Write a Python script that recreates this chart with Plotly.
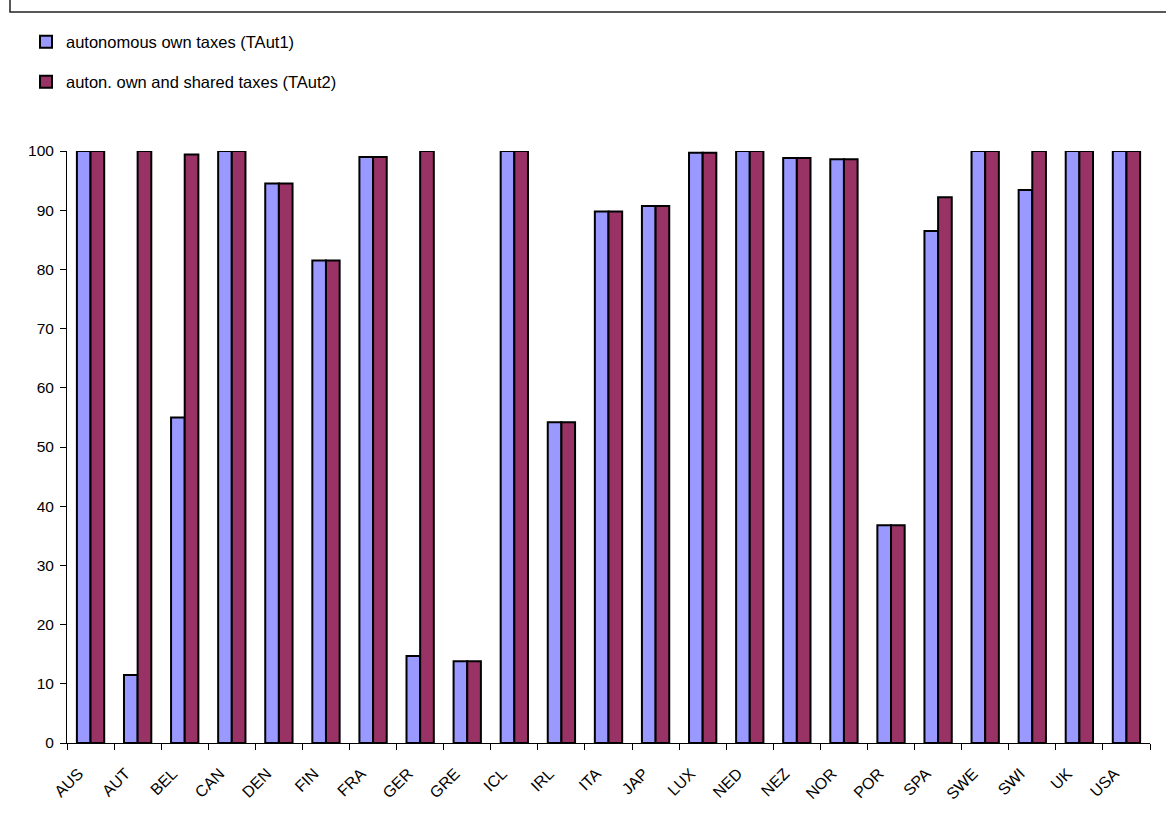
import plotly.graph_objects as go

countries = ["AUS", "AUT", "BEL", "CAN", "DEN", "FIN", "FRA", "GER", "GRE", "ICL", "IRL", "ITA",
             "JAP", "LUX", "NED", "NEZ", "NOR", "POR", "SPA", "SWE", "SWI", "UK", "USA"]
taut1 = [100, 11.5, 55, 100, 94.5, 81.5, 99, 14.7, 13.8, 100, 54.2, 89.8,
         90.7, 99.7, 100, 98.8, 98.6, 36.8, 86.5, 100, 93.4, 100, 100]
taut2 = [100, 100, 99.4, 100, 94.5, 81.5, 99, 100, 13.8, 100, 54.2, 89.8,
         90.7, 99.7, 100, 98.8, 98.6, 36.8, 92.2, 100, 100, 100, 100]
name1 = "autonomous own taxes (TAut1)"
name2 = "auton. own and shared taxes (TAut2)"

FONT = "Arial, Liberation Sans, sans-serif"
W, H = 1166, 825
ML, MR, MT, MB = 67, 16, 151, 82
PW = W - ML - MR
PH = H - MT - MB

def px_x(p):
    return (p - ML) / PW

def px_y(p):
    return (H - MB - p) / PH

fig = go.Figure()
fig.add_trace(go.Bar(x=countries, y=taut1, name=name1, legend="legend",
                     marker=dict(color="#9999FF", line=dict(color="black", width=2))))
fig.add_trace(go.Bar(x=countries, y=taut2, name=name2, legend="legend2",
                     marker=dict(color="#993366", line=dict(color="black", width=2))))

# outer chart border (top and left edges visible)
fig.add_shape(type="path", xref="paper", yref="paper",
              path=f"M {px_x(10)},{px_y(-20)} L {px_x(10)},{px_y(12)} L {px_x(1190)},{px_y(12)}",
              line=dict(color="#222222", width=1.5), layer="above")

legend_common = dict(font=dict(family=FONT, size=16.5, color="black"), bgcolor="rgba(0,0,0,0)",
                     xanchor="left", yanchor="middle", itemwidth=30)

fig.update_layout(
    width=W, height=H,
    margin=dict(l=ML, r=MR, t=MT, b=MB, pad=0),
    paper_bgcolor="white", plot_bgcolor="white",
    barmode="group", bargap=0.42, bargroupgap=0,
    font=dict(family=FONT, size=16, color="black"),
    showlegend=True,
    legend=dict(x=px_x(26), y=px_y(42), **legend_common),
    legend2=dict(x=px_x(26), y=px_y(82), **legend_common),
    xaxis=dict(showgrid=False, showline=True, linecolor="black", linewidth=1,
               ticks="outside", ticklen=6, tickcolor="black", tickson="boundaries",
               tickangle=-45, tickfont=dict(family=FONT, size=16, color="black"),
               ticklabelstandoff=14, ticklabelshift=-12, zeroline=False),
    yaxis=dict(range=[0, 100], dtick=10, showgrid=False, showline=True, linecolor="black",
               linewidth=1, ticks="outside", ticklen=6, tickcolor="black",
               ticklabelstandoff=3,
               tickfont=dict(family=FONT, size=15.5, color="black"), zeroline=False),
)

fig.write_html("out.html", config={"displayModeBar": False},
               post_script="document.body.style.margin='0';document.body.style.overflow='hidden';")
